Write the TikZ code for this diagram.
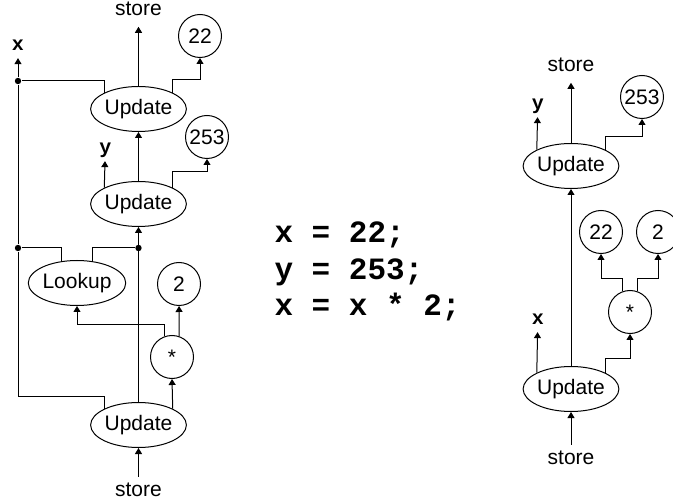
\documentclass[tikz,border=0pt]{standalone}
\usepackage{fontspec}
\setmainfont{Liberation Sans}
\setmonofont{Liberation Mono}
\usepackage{tikz}
\usetikzlibrary{arrows.meta}
\usetikzlibrary{shapes.geometric}

\begin{document}
\begin{tikzpicture}[x=0.5pt,y=-0.5pt,line width=0.5pt,>={Triangle[length=3pt,width=3.5pt]}]
\tikzstyle{op}=[ellipse,draw,minimum width=46.5pt,minimum height=22.5pt,inner sep=0pt,font=\fontsize{10.5}{12}\selectfont]
\tikzstyle{val}=[circle,draw,minimum size=21.5pt,inner sep=0pt,font=\fontsize{10.5}{12}\selectfont]
\tikzstyle{lbl}=[inner sep=2.5pt,text depth=.5ex,anchor=base,font=\fontsize{10.5}{12}\selectfont]
\tikzstyle{var}=[inner sep=2pt,text depth=.25ex,anchor=base,font=\fontsize{10}{11}\selectfont\ttfamily\bfseries]
\tikzstyle{code}=[inner sep=0pt,anchor=base west,font=\fontsize{15.5}{18}\selectfont\ttfamily\bfseries]
\tikzstyle{dot}=[circle,fill,inner sep=0pt,minimum size=3.2pt]
\useasboundingbox (0,0) rectangle (673,501);

% left graph
\node[op] at(138.5,425) (upd1) {Update};
\node[op] at(138.5,204) (upd2) {Update};
\node[op] at(138.5,109) (upd3) {Update};
\node[op] at(77,283) (look) {Lookup};
\node[val] at(172,357) (mul) {*};
\node[val] at(179,284) (two) {2};
\node[val] at(207,137) (v253) {253};
\node[val] at(200,36) (v22) {22};
\node[lbl] at(138.5,496) (inl) {store};
\node[lbl] at(138.5,16) (outl) {store};
\node[var] at(18,51) (xl) {x};
\node[var] at(105.3,154) (yl) {y};
\node[dot] at(18,81) (dx1) {};
\node[dot] at(18,248) (dx2) {};
\node[dot] at(138.5,248) (dl) {};
\coordinate (bend) at(18,396);
\draw[->] (inl) -- (upd1);
\draw[->] (upd1) -- (upd2);
\draw[->] (upd2) -- (upd3);
\draw[->] (upd3) -- (outl);
\draw[->] (upd1.north east) -- (mul.south);
\draw[->] (mul.71) -- (two);
\draw[->] (mul.109) -- ++(0,-12) -| (look);
\draw (upd1.north west) |- (bend) -- (dx2) -- (dx1);
\draw[->] (dx1) -- (xl);
\draw (upd3.north west) |- (dx1);
\draw (dx2) -| (look.125);
\draw (dl) -| (look.55);
\draw[->] (upd2.north west) -- (yl);
\draw[->] (upd2.north east) -- ++(0,-16) -| (v253);
\draw[->] (upd3.north east) -- ++(0,-13) -| (v22);

% the statements
\node[code] at(274,243) (ln1) {x = 22;};
\node[code] at(274,280) (ln2) {y = 253;};
\node[code] at(274,316) (ln3) {x = x * 2;};

% right graph
\node[op] at(571,389) (rupd1) {Update};
\node[op] at(571,166) (rupd2) {Update};
\node[val] at(630,312) (rmul) {*};
\node[val] at(601,232) (r22) {22};
\node[val] at(658,232) (r2) {2};
\node[val] at(642,97) (r253) {253};
\node[lbl] at(571,464) (rin) {store};
\node[lbl] at(571,72) (rout) {store};
\node[var] at(537.8,325) (rxl) {x};
\node[var] at(537.8,110) (ryl) {y};
\draw[->] (rin) -- (rupd1);
\draw[->] (rupd1) -- (rupd2);
\draw[->] (rupd2) -- (rout);
\draw[->] (rupd1.north west) -- (rxl);
\draw[->] (rupd2.north west) -- (ryl);
\draw[->] (rupd1.north east) -- ++(0,-14) -| (rmul);
\draw[->] (rmul.109) -- ++(0,-13) -| (r22);
\draw[->] (rmul.71) -- ++(0,-13) -| (r2);
\draw[->] (rupd2.north east) -- ++(0,-13) -| (r253);
\end{tikzpicture}
\end{document}
